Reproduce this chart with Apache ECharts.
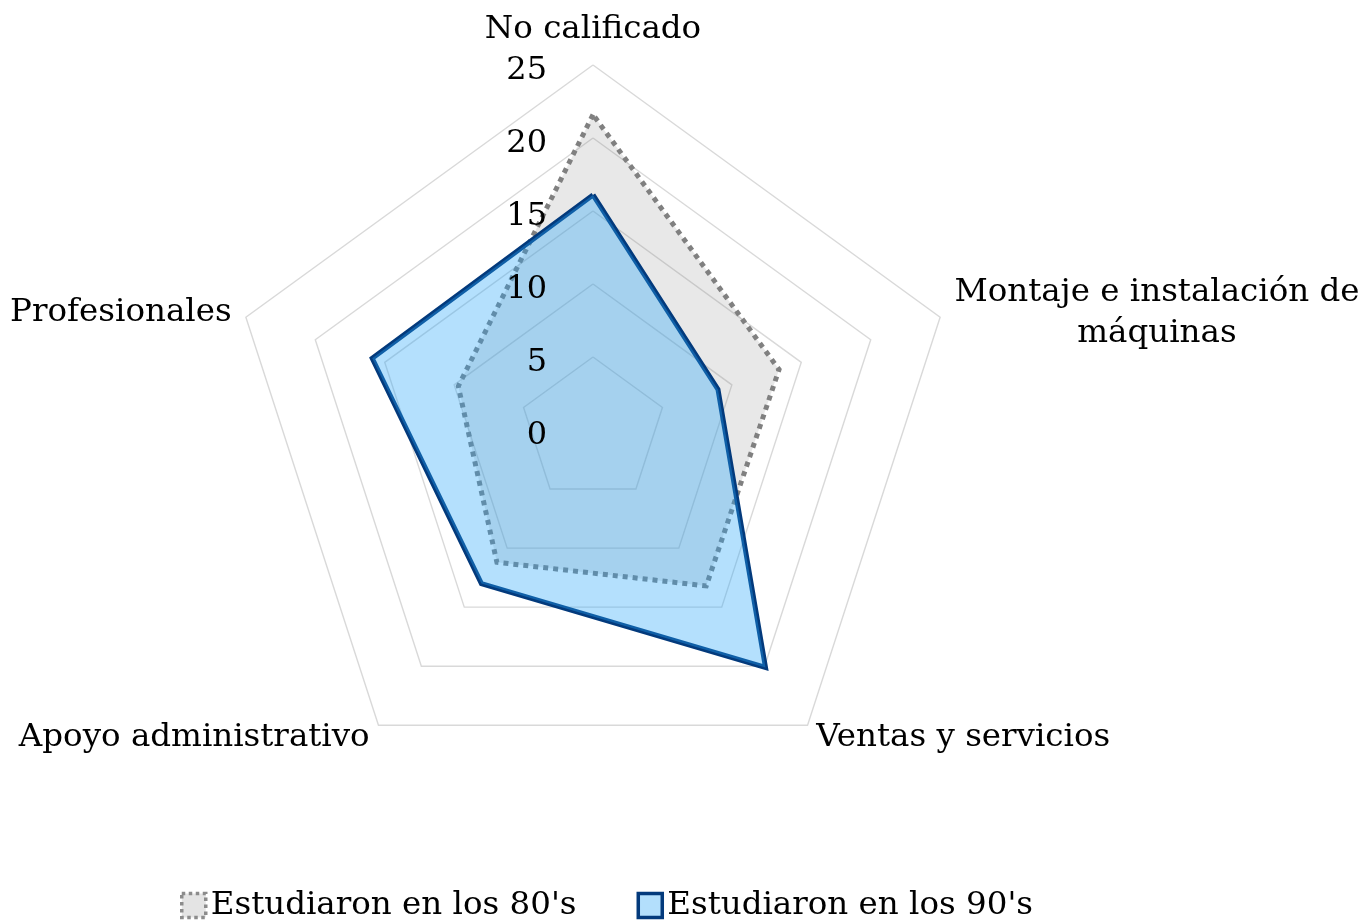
<!DOCTYPE html>
<html><head><meta charset="utf-8">
<script src="https://cdn.jsdelivr.net/npm/echarts@6/dist/echarts.min.js"></script>
<style>html,body{margin:0;padding:0;background:#fff}#c{width:1364px;height:923px}</style>
</head><body><div id="c"></div>
<script>
// Categories in clockwise order starting from the top, as in the reference
const categories = ['No calificado', 'Montaje e instalación de\nmáquinas', 'Ventas y servicios', 'Apoyo administrativo', 'Profesionales'];
const seriesNames = ["Estudiaron en los 80's", "Estudiaron en los 90's"];
const values80 = [21.6, 13.4, 13.2, 11.2, 9.7];
const values90 = [16.1, 9.0, 20.1, 13.0, 15.9];
const axisMin = 0;
const axisMax = 25;
const axisInterval = 5;

const FONT = 'DejaVu Serif';
// ECharts radar goes counter-clockwise; reorder so the picture runs clockwise
const order = [0, 4, 3, 2, 1];
const makeIndicators = withLabel => order.map((i, k) => {
  const ind = { name: categories[i], min: axisMin, max: axisMax };
  if (withLabel && k === 0) ind.axisLabel = { show: true };
  return ind;
});
const reorder = arr => order.map(i => arr[i]);

const radarBase = {
  center: [593, 430],
  radius: 365,
  startAngle: 90,
  splitNumber: (axisMax - axisMin) / axisInterval,
  shape: 'polygon',
  nameGap: 15,
  axisLine: { show: false },
  axisTick: { show: false },
  splitArea: { show: false }
};

const chart = echarts.init(document.getElementById('c'));
chart.setOption({
  animation: false,
  backgroundColor: '#fff',
  legend: {
    left: 180, top: 889, padding: 0,
    itemWidth: 24, itemHeight: 24, itemGap: 60,
    textStyle: { fontFamily: FONT, fontSize: 32.5, color: '#000' },
    data: [
      { name: seriesNames[0], icon: 'rect', itemStyle: { color: '#e4e4e4', borderColor: '#8c8c8c', borderWidth: 3.5, borderType: 'dotted' } },
      { name: seriesNames[1], icon: 'rect', itemStyle: { color: '#b3dffc', borderColor: '#033a7c', borderWidth: 3.5 } }
    ]
  },
  radar: [
    Object.assign({}, radarBase, {
      z: 0,
      axisName: {
        color: '#000', fontFamily: FONT, fontSize: 32.5,
        formatter: v => v.split('\n').map(s => '{n|' + s + '}').join('\n'),
        rich: { n: { align: 'center', color: '#000', fontFamily: FONT, fontSize: 32.5, lineHeight: 41 } }
      },
      axisLabel: { show: false },
      splitLine: { lineStyle: { color: '#d9d9d9', width: 1.4 } },
      indicator: makeIndicators(false)
    }),
    Object.assign({}, radarBase, {
      z: 10,
      axisName: { show: false },
      splitLine: { show: false },
      axisLabel: {
        show: false, margin: 46, color: '#000', fontFamily: FONT, fontSize: 32,
        formatter: '{t|{value}}',
        rich: { t: { color: '#000', fontFamily: FONT, fontSize: 32, padding: [11, 0, 0, 0] } }
      },
      indicator: makeIndicators(true)
    })
  ],
  series: [{
    type: 'radar',
    radarIndex: 0,
    symbol: 'none',
    data: [
      {
        name: seriesNames[0], value: reorder(values80),
        lineStyle: { color: '#808080', width: 5, type: 'dotted', join: 'miter' },
        itemStyle: { color: '#808080' },
        areaStyle: { color: 'rgba(128,128,128,0.18)', opacity: 1 }
      },
      {
        name: seriesNames[1], value: reorder(values90),
        lineStyle: { color: '#033a7c', width: 5, join: 'miter' },
        itemStyle: { color: '#033a7c' },
        areaStyle: { color: 'rgba(41,166,250,0.35)', opacity: 1 }
      }
    ]
  }]
});
</script></body></html>
